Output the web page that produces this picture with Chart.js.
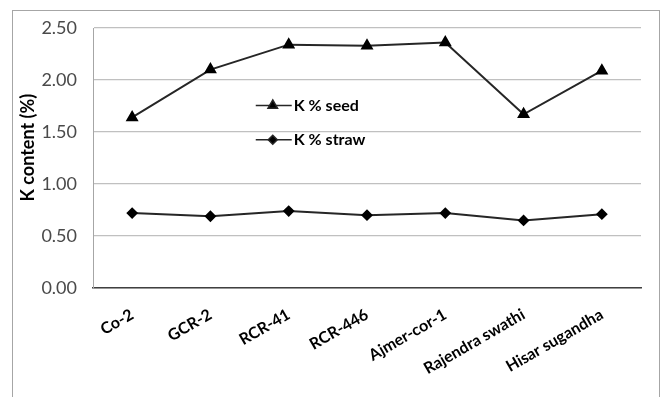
<!DOCTYPE html>
<html>
<head>
<meta charset="utf-8">
<script src="https://cdn.jsdelivr.net/npm/chart.js@4.4.0/dist/chart.umd.min.js"></script>
<style>
    html, body { margin: 0; padding: 0; background: #fff; }
    #wrap { position: relative; width: 661px; height: 397px; overflow: hidden; }
    #frame { position: absolute; left: 12px; top: 10px; width: 646px; height: 400px; border: 1px solid #a6a6a6; }
    #kChart { position: absolute; left: 0; top: 0; }
</style>
</head>
<body>
<div id="wrap">
    <div id="frame"></div>
    <canvas id="kChart" width="661" height="397"></canvas>
</div>
<script>
// Données
const varieties = ["Co-2", "GCR-2", "RCR-41", "RCR-446", "Ajmer-cor-1", "Rajendra swathi", "Hisar sugandha"];
const seedK = [1.64, 2.10, 2.34, 2.33, 2.36, 1.67, 2.09];
const strawK = [0.72, 0.69, 0.74, 0.70, 0.72, 0.65, 0.71];
const yTicks = [0, 0.5, 1.0, 1.5, 2.0, 2.5];
const yTitle = "K content (%)";

const FONT = "Lato, 'Open Sans', sans-serif";
const LINE = "#262626";

// Légende dans la zone du graphique + titre de l'axe Y
const innerLegend = {
    id: "innerLegend",
    afterDraw(chart) {
        const { ctx, chartArea } = chart;
        const items = chart.data.datasets;
        const x0 = chartArea.left + chartArea.width * 0.297;
        const rows = [0.298, 0.430];

        ctx.save();
        items.forEach((ds, i) => {
            const y = chartArea.top + chartArea.height * rows[i];
            ctx.strokeStyle = LINE;
            ctx.lineWidth = 1.5;
            ctx.beginPath();
            ctx.moveTo(x0, y);
            ctx.lineTo(x0 + 36, y);
            ctx.stroke();

            Chart.helpers.drawPoint(ctx, {
                pointStyle: ds.pointStyle,
                radius: ds.pointRadius,
                borderWidth: 1
            }, x0 + 17, y);

            ctx.fillStyle = "#000";
            ctx.font = "bold 16px " + FONT;
            ctx.textBaseline = "middle";
            ctx.textAlign = "left";
            ctx.fillText(ds.label, x0 + 38, y);
        });

        // titre vertical, un peu au-dessus du centre comme sur l'original
        ctx.translate(28, chartArea.top + chartArea.height * 0.46);
        ctx.rotate(-Math.PI / 2);
        ctx.font = "bold 18px " + FONT;
        ctx.textAlign = "center";
        ctx.textBaseline = "middle";
        ctx.fillText(yTitle, 0, 0);
        ctx.restore();
    }
};

new Chart(document.getElementById("kChart"), {
    type: "line",
    data: {
        labels: varieties,
        datasets: [
            {
                label: "K % seed",
                data: seedK,
                borderColor: LINE,
                backgroundColor: "#000",
                borderWidth: 2,
                pointStyle: "triangle",
                pointRadius: 5.5,
                pointBorderColor: "#000",
                tension: 0
            },
            {
                label: "K % straw",
                data: strawK,
                borderColor: LINE,
                backgroundColor: "#000",
                borderWidth: 2,
                pointStyle: "rectRot",
                pointRadius: 4.5,
                pointBorderColor: "#000",
                tension: 0
            }
        ]
    },
    options: {
        responsive: false,
        animation: false,
        layout: { padding: { left: 12, top: 28, right: 20, bottom: 0 } },
        plugins: {
            legend: { display: false },
            tooltip: { enabled: false }
        },
        scales: {
            x: {
                offset: true,
                afterFit: s => { s.height = 109; },
                grid: { display: false, drawTicks: false },
                border: { display: true, color: "#404040", width: 1.5 },
                ticks: {
                    minRotation: 30,
                    maxRotation: 30,
                    padding: 17,
                    color: "#000",
                    font: { family: FONT, size: 16, weight: "bold" }
                }
            },
            y: {
                min: 0,
                max: 2.5,
                afterFit: s => { s.width = 81; },
                afterBuildTicks: s => { s.ticks = yTicks.map(v => ({ value: v })); },
                grid: { color: "#c0c0c0", lineWidth: 1.2, drawTicks: false },
                border: { display: true, color: "#a6a6a6" },
                ticks: {
                    padding: 16,
                    color: "#4a4a4a",
                    font: { family: FONT, size: 18 },
                    callback: v => Number(v).toFixed(2)
                }
            }
        }
    },
    plugins: [innerLegend]
});
</script>
</body>
</html>
